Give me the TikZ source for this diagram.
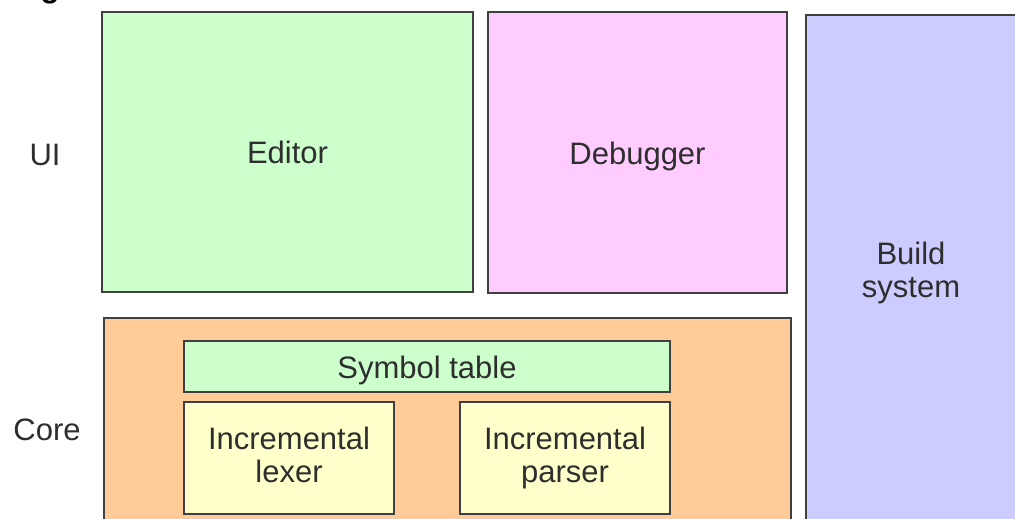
\documentclass[tikz,border=0pt]{standalone}
\usepackage{fontspec}
\setmainfont{Liberation Sans}
\definecolor{uigreen}{HTML}{CCFFCC}
\definecolor{uipink}{HTML}{FFCCFF}
\definecolor{buildblue}{HTML}{CCCCFF}
\definecolor{coreorange}{HTML}{FFCC99}
\definecolor{partyellow}{HTML}{FFFFCC}
\definecolor{edge}{HTML}{404040}
\definecolor{ink}{HTML}{2E2E2E}
\begin{document}
\begin{tikzpicture}[x=1pt,y=-1pt,
  box/.style={draw=edge, line width=2.8pt, rectangle, inner sep=0pt,
    text=ink, align=center, font=\fontsize{31}{33}\selectfont},
  oneline/.style={text height=23pt, text depth=0pt},
  rowlabel/.style={text=ink, font=\fontsize{31}{33}\selectfont}]
\useasboundingbox (0,0) rectangle (1015,519);
% heading, mostly above the visible area
\node[anchor=base, font=\bfseries\fontsize{31}{33}\selectfont, text=black] (heading) at (50,-2.5) {g};
% row labels
\node[rowlabel] (ui) at (45,155) {UI};
\node[rowlabel] (core) at (47,430) {Core};
% UI layer
\node[box, oneline, fill=uigreen, minimum width=371pt, minimum height=280pt] (editor) at (287.5,152) {Editor};
\node[box, oneline, fill=uipink, minimum width=299pt, minimum height=281pt] (debugger) at (637.5,152.5) {Debugger};
% build system spans both layers
\node[box, fill=buildblue, minimum width=210pt, minimum height=510pt] (build) at (911,270) {};
\node[text=ink, align=center, font=\fontsize{31}{33}\selectfont] (buildtext) at ([yshift=-3pt]build.center) {Build\\system};
% core layer and its parts
\node[box, fill=coreorange, minimum width=687pt, minimum height=227pt] (corebox) at (447.5,431.5) {};
\node[box, oneline, fill=uigreen, minimum width=486pt, minimum height=51pt] (symtab) at (427,366.5) {Symbol table};
\node[box, fill=partyellow, minimum width=210pt, minimum height=112pt] (lexer) at (289,458) {Incremental\\lexer\vphantom{p}};
\node[box, fill=partyellow, minimum width=210pt, minimum height=112pt] (parser) at (565,458) {Incremental\\parser};
\end{tikzpicture}
\end{document}
